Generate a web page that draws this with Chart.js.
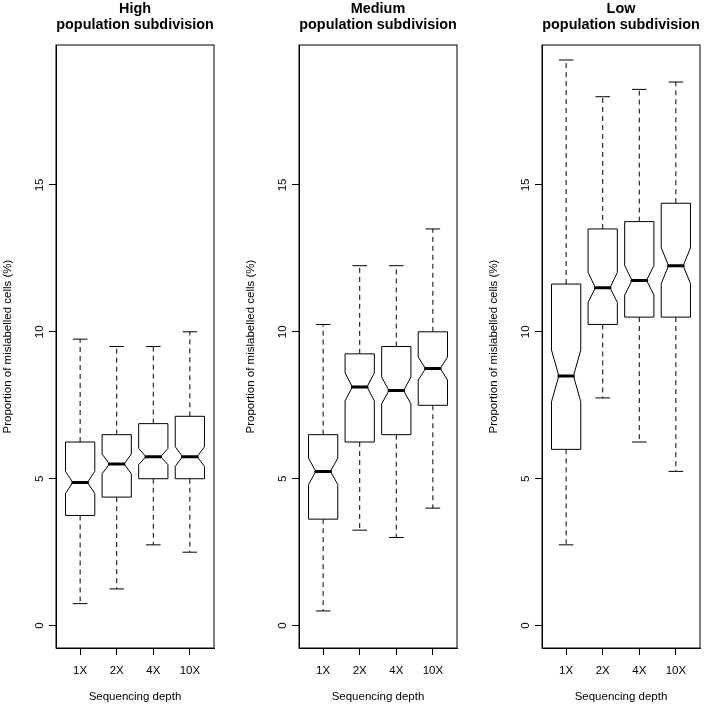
<!DOCTYPE html>
<html>
<head>
<meta charset="utf-8">
<script src="https://cdn.jsdelivr.net/npm/chart.js@4.4.0/dist/chart.umd.min.js"></script>
<style>
  html, body { margin: 0; padding: 0; background: #fff; overflow: hidden; }
  #wrap { position: relative; width: 704px; height: 707px; overflow: hidden; }
  .panel { position: absolute; top: 0; width: 243px; height: 707px; }
</style>
</head>
<body>
<div id="wrap">
  <div class="panel" style="left:0px"><canvas id="c0" width="243" height="707"></canvas></div>
  <div class="panel" style="left:243px"><canvas id="c1" width="243" height="707"></canvas></div>
  <div class="panel" style="left:486px"><canvas id="c2" width="243" height="707"></canvas></div>
</div>
<script>
// categories and panels
const depths = ["1X", "2X", "4X", "10X"];
const panelTitles = [
  ["High", "population subdivision"],
  ["Medium", "population subdivision"],
  ["Low", "population subdivision"]
];
const yTicks = [0, 5, 10, 15];

// box statistics, one row per panel (High, Medium, Low)
const lowerWhisker = [[0.75, 1.25, 2.75, 2.5], [0.5, 3.25, 3.0, 4.0], [2.75, 7.75, 6.25, 5.25]];
const lowerHinge   = [[3.75, 4.375, 5.0, 5.0], [3.625, 6.25, 6.5, 7.5], [6.0, 10.25, 10.5, 10.5]];
const medians      = [[4.875, 5.5, 5.75, 5.75], [5.25, 8.125, 8.0, 8.75], [8.5, 11.5, 11.75, 12.25]];
const upperHinge   = [[6.25, 6.5, 6.875, 7.125], [6.5, 9.25, 9.5, 10.0], [11.625, 13.5, 13.75, 14.375]];
const upperWhisker = [[9.75, 9.5, 9.5, 10.0], [10.25, 12.25, 12.25, 13.5], [19.25, 18.0, 18.25, 18.5]];
const notchLow     = [[4.5, 5.17, 5.48, 5.42], [4.8, 7.65, 7.55, 8.36], [7.62, 11.0, 11.25, 11.64]];
const notchHigh    = [[5.25, 5.84, 6.03, 6.09], [5.7, 8.6, 8.46, 9.14], [9.38, 12.02, 12.26, 12.86]];

const FONT = "'Liberation Sans', Arial, Helvetica, sans-serif";
Chart.defaults.font.family = FONT;
Chart.defaults.color = "#000";

// draws R-style notched boxplots from the dataset, using the chart scales
const boxPlugin = {
  id: "notchedBoxes",
  afterDatasetsDraw(chart) {
    const { ctx, scales: { x, y } } = chart;
    const pts = chart.data.datasets[0].data;
    ctx.save();
    ctx.strokeStyle = "#000";
    pts.forEach(b => {
      const cx = x.getPixelForValue(b.x);
      const w = x.getPixelForValue(b.x + 0.4) - cx;
      const sw = x.getPixelForValue(b.x + 0.2) - cx;
      const py = v => y.getPixelForValue(v);

      // whiskers
      ctx.lineWidth = 1;
      ctx.setLineDash([5, 4]);
      ctx.beginPath();
      ctx.moveTo(cx, py(b.q3)); ctx.lineTo(cx, py(b.hi));
      ctx.moveTo(cx, py(b.q1)); ctx.lineTo(cx, py(b.lo));
      ctx.stroke();
      ctx.setLineDash([]);
      ctx.beginPath();
      ctx.moveTo(cx - sw, py(b.hi)); ctx.lineTo(cx + sw, py(b.hi));
      ctx.moveTo(cx - sw, py(b.lo)); ctx.lineTo(cx + sw, py(b.lo));
      ctx.stroke();

      // notched box
      ctx.fillStyle = "#fff";
      ctx.beginPath();
      ctx.moveTo(cx - w, py(b.q1));
      ctx.lineTo(cx - w, py(b.nlo));
      ctx.lineTo(cx - w / 2, py(b.med));
      ctx.lineTo(cx - w, py(b.nhi));
      ctx.lineTo(cx - w, py(b.q3));
      ctx.lineTo(cx + w, py(b.q3));
      ctx.lineTo(cx + w, py(b.nhi));
      ctx.lineTo(cx + w / 2, py(b.med));
      ctx.lineTo(cx + w, py(b.nlo));
      ctx.lineTo(cx + w, py(b.q1));
      ctx.closePath();
      ctx.fill();
      ctx.stroke();

      // median
      ctx.lineWidth = 3;
      ctx.lineCap = "round";
      ctx.beginPath();
      ctx.moveTo(cx - w / 2, py(b.med));
      ctx.lineTo(cx + w / 2, py(b.med));
      ctx.stroke();
      ctx.lineCap = "butt";
    });
    ctx.restore();
  },
  afterDraw(chart) {
    const { ctx, chartArea: a, scales: { y } } = chart;
    ctx.save();
    ctx.strokeStyle = "#000";
    ctx.lineWidth = 1;
    ctx.strokeRect(a.left, a.top, a.right - a.left, a.bottom - a.top);
    // y tick labels, parallel to the axis as in R
    ctx.fillStyle = "#000";
    ctx.font = "11.5px " + FONT;
    ctx.textAlign = "center";
    ctx.textBaseline = "middle";
    y.ticks.forEach(t => {
      ctx.save();
      ctx.translate(a.left - 16, y.getPixelForValue(t.value));
      ctx.rotate(-Math.PI / 2);
      ctx.fillText(String(t.value), 0, 0);
      ctx.restore();
    });
    ctx.restore();
  }
};

function makePanel(i) {
  const boxes = depths.map((d, j) => ({
    x: j + 1,
    y: medians[i][j],
    lo: lowerWhisker[i][j],
    q1: lowerHinge[i][j],
    med: medians[i][j],
    q3: upperHinge[i][j],
    hi: upperWhisker[i][j],
    nlo: notchLow[i][j],
    nhi: notchHigh[i][j]
  }));

  new Chart(document.getElementById("c" + i), {
    type: "scatter",
    data: { datasets: [{ data: boxes, pointRadius: 0, pointHoverRadius: 0 }] },
    options: {
      responsive: false,
      animation: false,
      devicePixelRatio: 1,
      layout: { padding: { left: 0, right: 29, top: 0, bottom: 0 } },
      plugins: {
        legend: { display: false },
        tooltip: { enabled: false },
        title: {
          display: true,
          fullSize: false,
          text: panelTitles[i],
          color: "#000",
          font: { size: 14.4, weight: "bold", lineHeight: "16px" },
          padding: { top: 0.6, bottom: 12.4 }
        }
      },
      scales: {
        x: {
          type: "linear",
          position: "bottom",
          min: 0.34,
          max: 4.66,
          afterBuildTicks: s => { s.ticks = depths.map((d, j) => ({ value: j + 1 })); },
          afterFit: s => { s.height = 59; },
          ticks: {
            autoSkip: false,
            maxRotation: 0,
            padding: 9,
            color: "#000",
            font: { size: 11.5 },
            callback: (v, idx) => depths[idx]
          },
          grid: { drawOnChartArea: false, drawTicks: true, tickLength: 7, tickColor: "#000" },
          border: { display: true, color: "#000" },
          title: {
            display: true,
            text: "Sequencing depth",
            color: "#000",
            font: { size: 11.5, lineHeight: 1.2 },
            padding: { top: 0, bottom: 3 }
          }
        },
        y: {
          type: "linear",
          position: "left",
          min: -0.76,
          max: 19.76,
          afterBuildTicks: s => { s.ticks = yTicks.map(v => ({ value: v })); },
          afterFit: s => { s.width = 56; },
          ticks: { display: false },
          grid: { drawOnChartArea: false, drawTicks: true, tickLength: 7, tickColor: "#000" },
          border: { display: true, color: "#000" },
          title: {
            display: true,
            text: "Proportion of mislabelled cells (%)",
            color: "#000",
            font: { size: 11.5, lineHeight: 1 },
            padding: { top: 2.5, bottom: 0 }
          }
        }
      }
    },
    plugins: [boxPlugin]
  });
}

[0, 1, 2].forEach(makePanel);
</script>
</body>
</html>
